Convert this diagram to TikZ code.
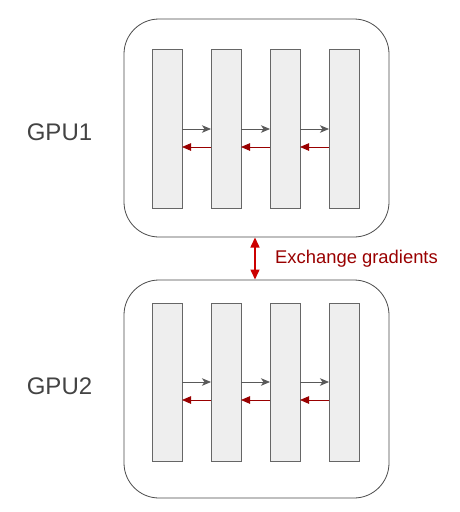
\documentclass[tikz,border=0pt]{standalone}
\usepackage{fontspec}
\setmainfont{Liberation Sans}
\usetikzlibrary{arrows.meta}
\definecolor{boxline}{HTML}{4A4A4A}
\definecolor{barfill}{HTML}{EEEEEE}
\definecolor{barline}{HTML}{666666}
\definecolor{fwd}{HTML}{595959}
\definecolor{bwd}{HTML}{990000}
\definecolor{xch}{HTML}{CC0000}
\definecolor{gputext}{HTML}{434343}
\tikzset{
  gpubox/.style={draw=boxline, line width=0.8pt, rounded corners=35pt, fill=white},
  layerbar/.style={draw=barline, line width=0.8pt, fill=barfill, minimum width=30pt, inner sep=0pt, outer sep=0pt},
  fwdarrow/.style={draw=fwd, line width=0.8pt, -{Stealth[length=9pt,width=7.5pt,inset=2.5pt]}},
  bwdarrow/.style={draw=bwd, line width=0.8pt, -{Triangle[length=9pt,width=7.5pt]}},
  xcharrow/.style={draw=xch, line width=1.5pt, {Triangle[length=10pt,width=9pt]}-{Triangle[length=10pt,width=9pt]}},
  gpulabel/.style={text=gputext, font=\fontsize{24}{28}\selectfont, inner sep=0pt},
  xlabel/.style={text=bwd, font=\fontsize{18.4}{22}\selectfont, inner sep=0pt, anchor=west}
}
\begin{document}
\begin{tikzpicture}[x=1pt,y=-1pt]
\useasboundingbox (0,0) rectangle (459,512);
% GPU boxes
\node[gpubox, minimum width=265pt, minimum height=218pt, inner sep=0pt] (box1) at (256.5,128) {};
\node[gpubox, minimum width=265pt, minimum height=218pt, inner sep=0pt] (box2) at (256.5,389) {};
% labels
\node[gpulabel] (g1) at (59.5,132) {GPU1};
\node[gpulabel] (g2) at (59.5,386) {GPU2};
% bars box 1
\foreach \i/\x in {1/167,2/226,3/285,4/344}{
  \node[layerbar, minimum height=159pt] (a\i) at (\x,128.5) {};
}
% bars box 2
\foreach \i/\x in {1/167,2/226,3/285,4/344}{
  \node[layerbar, minimum height=158pt] (b\i) at (\x,382) {};
}
% arrows box 1
\foreach \i/\j in {1/2,2/3,3/4}{
  \draw[fwdarrow] (a\i.east |- 0,129) -- (a\j.west |- 0,129);
  \draw[bwdarrow] (a\j.west |- 0,147) -- (a\i.east |- 0,147);
}
% arrows box 2
\foreach \i/\j in {1/2,2/3,3/4}{
  \draw[fwdarrow] (b\i.east |- 0,382) -- (b\j.west |- 0,382);
  \draw[bwdarrow] (b\j.west |- 0,400) -- (b\i.east |- 0,400);
}
% exchange
\coordinate (xt) at (255,237.5);
\coordinate (xb) at (255,279.5);
\draw[xcharrow] (xt) -- (xb);
\node[xlabel] (xl) at (275,259) {Exchange gradients};
\end{tikzpicture}
\end{document}
